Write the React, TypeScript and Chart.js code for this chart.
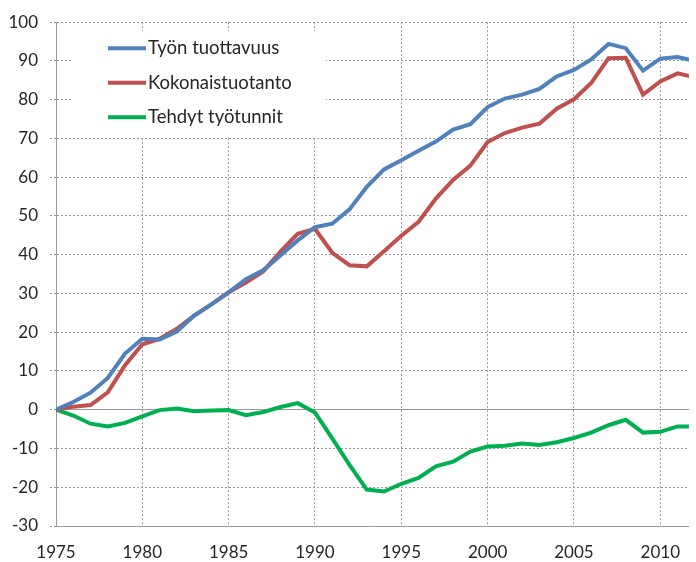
import React, { useEffect, useRef } from "react";
import { Chart, registerables } from "chart.js";

Chart.register(...registerables);

const years = [
  1975, 1976, 1977, 1978, 1979, 1980, 1981, 1982, 1983, 1984, 1985, 1986, 1987,
  1988, 1989, 1990, 1991, 1992, 1993, 1994, 1995, 1996, 1997, 1998, 1999, 2000,
  2001, 2002, 2003, 2004, 2005, 2006, 2007, 2008, 2009, 2010, 2011, 2012,
];

const productivity = [
  0, 2.0, 4.4, 8.2, 14.5, 18.3, 18.1, 20.2, 24.3, 27.2, 30.3, 33.7, 36.0, 39.8,
  43.7, 47.1, 48.0, 51.7, 57.5, 62.0, 64.4, 66.8, 69.2, 72.3, 73.7, 78.1, 80.3,
  81.3, 82.8, 86.0, 87.7, 90.4, 94.4, 93.3, 87.5, 90.6, 91.0, 90.0,
];

const totalOutput = [
  0, 0.8, 1.2, 4.5, 11.5, 16.9, 18.3, 20.9, 24.3, 27.2, 30.3, 32.8, 35.7, 40.8,
  45.4, 46.7, 40.5, 37.3, 37.0, 40.9, 44.9, 48.5, 54.5, 59.3, 63.0, 69.1, 71.4,
  72.8, 73.8, 77.7, 80.1, 84.3, 90.7, 90.8, 81.3, 84.7, 86.8, 85.8,
];

const hoursWorked = [
  0, -1.5, -3.6, -4.3, -3.4, -1.7, -0.1, 0.3, -0.4, -0.2, -0.1, -1.4, -0.6, 0.7,
  1.7, -0.7, -7.4, -14.2, -20.6, -21.1, -19.1, -17.6, -14.6, -13.4, -10.8, -9.5,
  -9.3, -8.7, -9.1, -8.4, -7.3, -5.9, -4.0, -2.6, -5.9, -5.7, -4.3, -4.3,
];

const seriesLabels = ["Työn tuottavuus", "Kokonaistuotanto", "Tehdyt työtunnit"];
const seriesColors = ["#4F81BD", "#C0504D", "#00B050"];

const yMin = -30;
const yMax = 100;
const yStep = 10;
const xMin = 1975;
const xMax = 2011.66;
const xStep = 5;

const FONT = "Lato, 'Open Sans', sans-serif";
const GRID = "#9a9a9a";

const legendPlugin = {
  id: "insideLegend",
  afterDatasetsDraw(chart: any) {
    const { ctx, chartArea } = chart;
    const left = chartArea.left;
    const top = chartArea.top;
    ctx.save();
    ctx.fillStyle = "#ffffff";
    ctx.fillRect(left + 17, top + 9, 253, 105);
    chart.data.datasets.forEach((ds: any, i: number) => {
      const y = top + 26 + i * 34.5;
      ctx.strokeStyle = ds.borderColor;
      ctx.lineWidth = 4;
      ctx.lineCap = "butt";
      ctx.beginPath();
      ctx.moveTo(left + 52, y);
      ctx.lineTo(left + 90, y);
      ctx.stroke();
      ctx.fillStyle = "#262626";
      ctx.font = `18.5px ${FONT}`;
      ctx.textBaseline = "middle";
      ctx.textAlign = "left";
      ctx.fillText(ds.label, left + 92, y);
    });
    ctx.restore();
  },
};

export default function App() {
  const ref = useRef<HTMLCanvasElement | null>(null);

  useEffect(() => {
    document.body.style.margin = "0";
    const canvas = ref.current;
    if (!canvas) return;
    const series = [productivity, totalOutput, hoursWorked];
    const chart = new Chart(canvas, {
      type: "line",
      data: {
        datasets: series.map((vals, i) => ({
          label: seriesLabels[i],
          data: years.map((yr, j) => ({ x: yr, y: vals[j] })),
          borderColor: seriesColors[i],
          backgroundColor: seriesColors[i],
          borderWidth: 4,
          pointRadius: 0,
          tension: 0,
          fill: false,
        })),
      },
      options: {
        responsive: false,
        animation: false,
        layout: { padding: { top: 16, right: 0, bottom: 0, left: 0 } },
        plugins: {
          legend: { display: false },
          tooltip: { enabled: false },
        },
        scales: {
          x: {
            type: "linear",
            min: xMin,
            max: xMax,
            afterFit: (s: any) => {
              s.height = 36;
            },
            ticks: {
              stepSize: xStep,
              includeBounds: false,
              color: "#262626",
              font: { family: FONT, size: 17 },
              padding: 16,
              maxRotation: 0,
              autoSkip: false,
              callback: (v: any) => String(v),
            },
            grid: {
              color: GRID,
              lineWidth: 1,
              drawTicks: false,
            },
            border: { color: GRID, width: 1, dash: [2, 2] },
          },
          y: {
            min: yMin,
            max: yMax,
            afterFit: (s: any) => {
              s.width = 56;
            },
            ticks: {
              stepSize: yStep,
              color: "#262626",
              font: { family: FONT, size: 17 },
              padding: 12,
            },
            grid: {
              color: GRID,
              lineWidth: 1,
              drawTicks: true,
              tickLength: 6,
              tickColor: GRID,
              tickBorderDash: [2, 2],
            },
            border: {
              color: GRID,
              width: 1,
              dash: (c: any) => (c.tick && c.tick.value === 0 ? [] : [2, 2]),
            },
          },
        },
      },
      plugins: [legendPlugin],
    });
    return () => chart.destroy();
  }, []);

  return (
    <div style={{ width: 696, height: 562, background: "#fff" }}>
      <canvas ref={ref} width={696} height={562} style={{ display: "block" }} />
    </div>
  );
}
